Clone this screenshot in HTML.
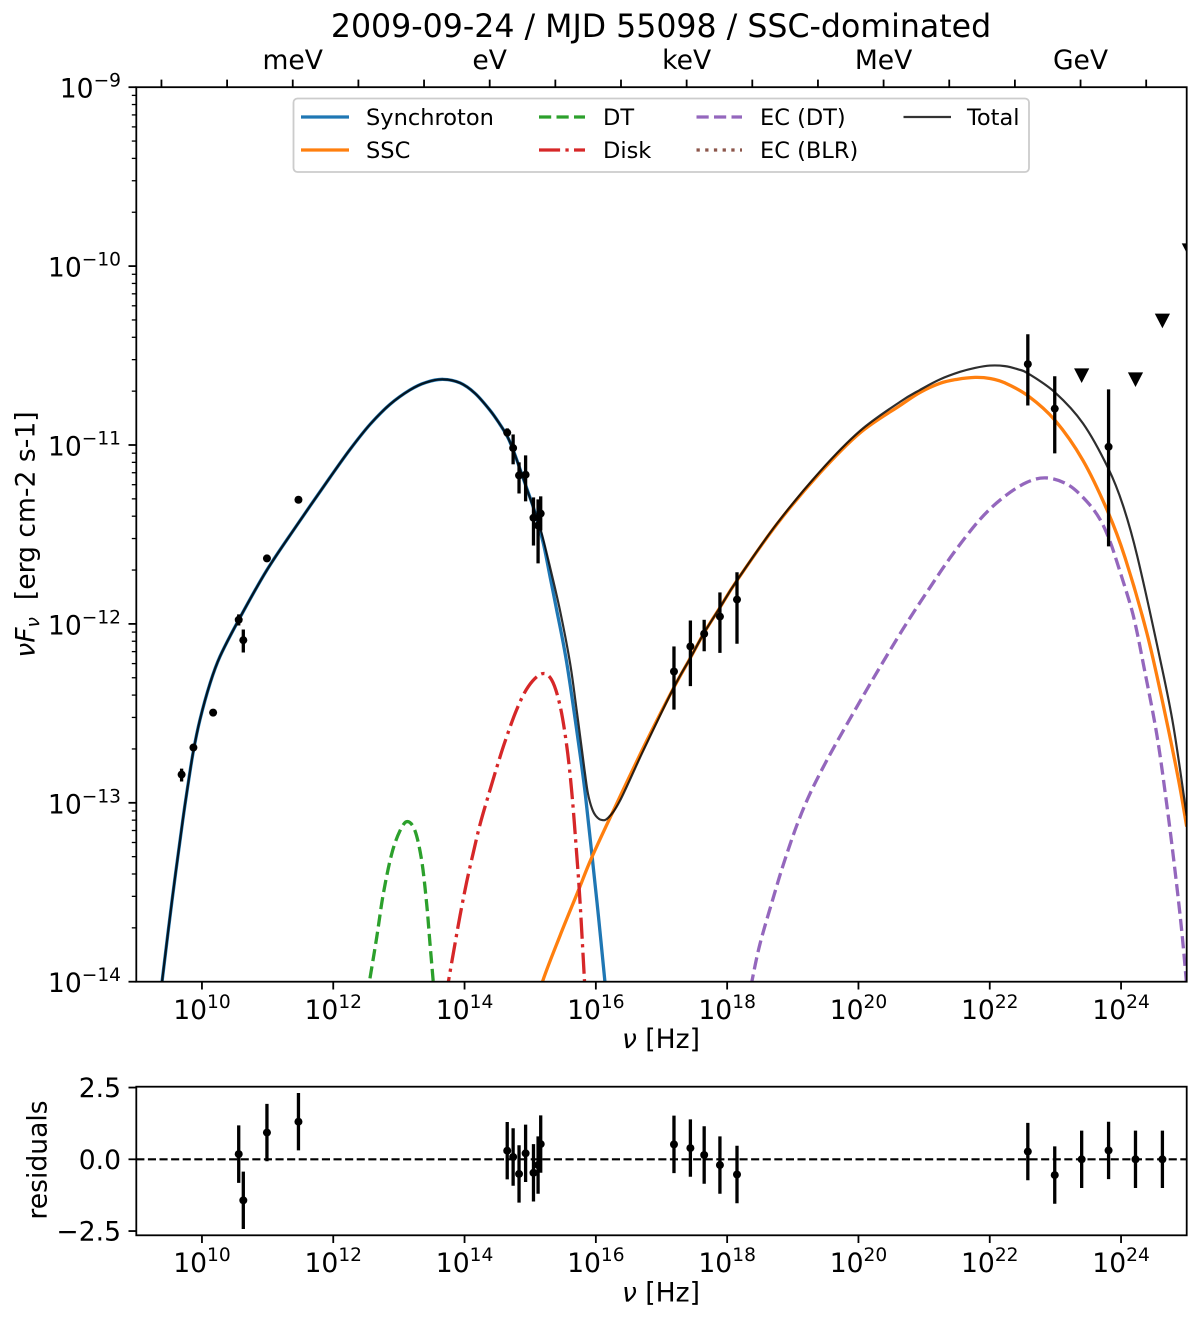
<!DOCTYPE html>
<html lang="en">
<head>
<meta charset="utf-8">
<title>2009-09-24 / MJD 55098 / SSC-dominated</title>
<style>
html,body{margin:0;padding:0;background:#fff;}
svg{display:block;}
text{font-family:"DejaVu Sans","Liberation Sans",sans-serif;fill:#000;}
</style>
</head>
<body>
<svg id="chart" xmlns="http://www.w3.org/2000/svg" width="1200" height="1322" viewBox="0 0 1200 1322">
  <defs>
    <clipPath id="main-clip"><rect x="136.3" y="87.2" width="1050.4" height="894.5"/></clipPath>
    <clipPath id="res-clip"><rect x="136.3" y="1086.7" width="1050.4" height="148.6"/></clipPath>
  </defs>
  <rect x="0" y="0" width="1200" height="1322" fill="#fff"/>
  <text x="661" y="37" font-size="31.6" text-anchor="middle">2009-09-24 / MJD 55098 / SSC-dominated</text>
  <g id="main-marks" clip-path="url(#main-clip)"></g>
  <g id="main-axes"></g>
  <g>
    <rect x="293.5" y="98.5" width="735.5" height="73.5" rx="4" fill="#fff" fill-opacity="0.8" stroke="#ccc" stroke-width="1.8"/>
    <g><line x1="301" x2="349" y1="117" y2="117" stroke="#1f77b4" stroke-width="3.3"/><text x="366" y="125" font-size="22.5">Synchroton</text></g>
    <g><line x1="301" x2="349" y1="150" y2="150" stroke="#ff7f0e" stroke-width="3.3"/><text x="366" y="158" font-size="22.5">SSC</text></g>
    <g><line x1="539" x2="585" y1="117" y2="117" stroke="#2ca02c" stroke-width="3.3" stroke-dasharray="12.2 5.3"/><text x="603" y="125" font-size="22.5">DT</text></g>
    <g><line x1="539" x2="585" y1="150" y2="150" stroke="#d62728" stroke-width="3.3" stroke-dasharray="21.1 5.3 3.3 5.3"/><text x="603" y="158" font-size="22.5">Disk</text></g>
    <g><line x1="696.5" x2="742" y1="117" y2="117" stroke="#9467bd" stroke-width="3.3" stroke-dasharray="12.2 5.3"/><text x="760" y="125" font-size="22.5">EC (DT)</text></g>
    <g><line x1="696.5" x2="742" y1="150" y2="150" stroke="#8c564b" stroke-width="3.3" stroke-dasharray="3.3 5.4"/><text x="760" y="158" font-size="22.5">EC (BLR)</text></g>
    <g><line x1="903.5" x2="951" y1="117" y2="117" stroke="#000" stroke-opacity="0.8" stroke-width="2.2"/><text x="967" y="125" font-size="22.5">Total</text></g>
  </g>
  <g id="res-marks" clip-path="url(#res-clip)"></g>
  <g id="res-axes"></g>
  <text transform="translate(34.5 534.5) rotate(-90)" font-size="26.6" text-anchor="middle" xml:space="preserve"><tspan font-style="italic">νF</tspan><tspan font-style="italic" font-size="18.6" dy="4.5">ν</tspan><tspan dy="-4.5">  [erg cm-2 s-1]</tspan></text>
  <text x="661" y="1048" font-size="26.6" text-anchor="middle"><tspan font-style="italic">ν</tspan> [Hz]</text>
  <text transform="translate(46.5 1160) rotate(-90)" font-size="26.6" text-anchor="middle">residuals</text>
  <text x="661" y="1301.5" font-size="26.6" text-anchor="middle"><tspan font-style="italic">ν</tspan> [Hz]</text>
</svg>
<script>
// Values are log10(nu / Hz) and log10(nuFnu / erg cm-2 s-1)
const synchrotronNu = [9.369,9.391,9.544,9.707,9.788,9.868,9.970,10.123,10.275,10.564,10.986,11.443,11.951,12.255,12.560,12.864,13.169,13.413,13.672,13.931,14.159,14.388,14.540,14.651,14.743,14.921,15.073,15.200,15.302,15.393,15.556,15.748,15.842,15.937,16.040,16.139,16.170];
const synchrotronFlux = [-14.078,-14.003,-13.547,-13.100,-12.898,-12.714,-12.535,-12.333,-12.182,-11.975,-11.701,-11.450,-11.181,-11.025,-10.885,-10.773,-10.692,-10.650,-10.633,-10.653,-10.711,-10.806,-10.885,-10.952,-11.030,-11.215,-11.377,-11.550,-11.735,-11.903,-12.216,-12.697,-12.960,-13.279,-13.636,-14.003,-14.120];
const sscNu = [15.119,15.184,15.454,15.733,15.937,16.318,16.784,17.180,17.434,17.652,17.886,18.150,18.755,19.414,20.024,20.633,20.938,21.242,21.501,21.775,22.004,22.232,22.583,22.994,23.420,23.801,24.060,24.391,24.644,24.872,25.0];
const sscFlux = [-14.134,-14.004,-13.743,-13.491,-13.306,-13.004,-12.647,-12.361,-12.194,-12.048,-11.911,-11.757,-11.444,-11.156,-10.932,-10.779,-10.706,-10.655,-10.633,-10.622,-10.628,-10.653,-10.725,-10.862,-11.086,-11.375,-11.629,-12.048,-12.456,-12.865,-13.133];
const dtNu = [12.514,12.549,12.662,12.762,12.890,13.017,13.128,13.245,13.347,13.423,13.474,13.524,13.542];
const dtFlux = [-14.078,-14.004,-13.752,-13.510,-13.286,-13.156,-13.105,-13.156,-13.323,-13.565,-13.789,-14.004,-14.090];
const diskNu = [13.718,13.752,13.854,13.931,14.033,14.133,14.235,14.362,14.490,14.616,14.794,14.971,15.175,15.327,15.454,15.556,15.634,15.708,15.758,15.824,15.842];
const diskFlux = [-14.090,-14.004,-13.789,-13.631,-13.441,-13.279,-13.122,-12.960,-12.803,-12.658,-12.479,-12.350,-12.279,-12.313,-12.456,-12.680,-12.943,-13.286,-13.547,-13.976,-14.106];
const ecDtNu = [18.318,18.374,18.500,18.703,18.855,19.059,19.262,19.516,19.821,20.226,20.683,21.090,21.445,21.851,22.206,22.563,22.868,23.196,23.477,23.680,23.832,23.954,24.136,24.228,24.339,24.543,24.695,24.822,24.924,25.0];
const ecDtFlux = [-14.123,-14.004,-13.789,-13.530,-13.346,-13.128,-12.949,-12.764,-12.563,-12.305,-12.026,-11.796,-11.606,-11.416,-11.293,-11.209,-11.184,-11.223,-11.315,-11.416,-11.539,-11.673,-11.886,-12.020,-12.223,-12.615,-13.006,-13.379,-13.715,-14.020];
const totalNu = [9.369,9.391,9.544,9.707,9.788,9.868,9.970,10.123,10.275,10.564,10.986,11.443,11.951,12.255,12.560,12.864,13.169,13.413,13.672,13.931,14.159,14.388,14.540,14.651,14.743,14.921,15.073,15.175,15.302,15.454,15.606,15.698,15.789,15.835,15.880,15.941,16.002,16.089,16.190,16.368,16.723,17.180,17.434,17.652,17.886,18.150,18.755,19.414,20.024,20.633,20.938,21.242,21.547,21.775,22.004,22.232,22.430,22.583,22.994,23.420,23.806,24.030,24.248,24.593,24.796,25.0];
const totalFlux = [-14.078,-14.003,-13.547,-13.100,-12.898,-12.714,-12.535,-12.333,-12.182,-11.975,-11.701,-11.450,-11.181,-11.025,-10.885,-10.773,-10.692,-10.650,-10.633,-10.653,-10.711,-10.806,-10.885,-10.952,-11.030,-11.215,-11.377,-11.494,-11.683,-11.925,-12.216,-12.456,-12.708,-12.837,-12.949,-13.032,-13.074,-13.096,-13.083,-12.988,-12.708,-12.361,-12.194,-12.048,-11.911,-11.757,-11.441,-11.148,-10.921,-10.759,-10.692,-10.633,-10.591,-10.569,-10.556,-10.559,-10.577,-10.600,-10.706,-10.879,-11.131,-11.338,-11.623,-12.194,-12.568,-13.072];

// Observed points with error bars
const obsNu = [9.69,9.87,10.17,10.56,10.63,10.99,11.47,14.65,14.74,14.83,14.93,15.05,15.12,15.16,17.19,17.44,17.65,17.89,18.15,22.58,22.99,23.81];
const obsFlux = [-12.842,-12.691,-12.496,-11.977,-12.091,-11.634,-11.306,-10.931,-11.017,-11.17,-11.166,-11.407,-11.45,-11.383,-12.266,-12.126,-12.055,-11.959,-11.864,-10.548,-10.797,-11.01];
const obsFluxUpper = [-12.809,-12.68,-12.488,-11.947,-12.031,-11.626,-11.287,-10.907,-10.941,-11.097,-11.058,-11.293,-11.304,-11.287,-12.126,-11.981,-11.977,-11.824,-11.711,-10.381,-10.616,-10.689];
const obsFluxLower = [-12.881,-12.702,-12.504,-12.009,-12.16,-11.642,-11.327,-10.952,-11.108,-11.271,-11.315,-11.562,-11.662,-11.478,-12.479,-12.348,-12.153,-12.162,-12.111,-10.779,-11.047,-11.567];

// Upper limits
const limitNu = [23.40,24.22,24.63,25.04];
const limitFlux = [-10.611,-10.633,-10.305,-9.912];

// Residuals
const residualNu = [10.56,10.63,10.99,11.47,14.65,14.74,14.83,14.93,15.05,15.12,15.16,17.19,17.44,17.65,17.89,18.15,22.58,22.99,23.40,23.81,24.22,24.63];
const residualValue = [0.18,-1.43,0.93,1.31,0.3,0.08,-0.51,0.21,-0.47,-0.2,0.53,0.52,0.39,0.15,-0.2,-0.53,0.27,-0.55,0,0.31,0,0];
const residualError = [1,1,1,1,1,1,1,1,1,1,1,1,1,1,1,1,1,1,1,1,1,1];

// Axis ticks
const xTickExponents = [10,12,14,16,18,20,22,24];
const yTickExponents = [-9,-10,-11,-12,-13,-14];
const yMinorFactors = [2,3,4,5,6,7,8,9];
const residualTicks = [2.5,0,-2.5];
const residualTickLabels = ['2.5','0.0','−2.5'];
const energyTickExponents = [-5,-4,-3,-2,-1,0,1,2,3,4,5,6,7,8,9,10];
const energyLabels = ['meV','eV','keV','MeV','GeV'];
const energyLabelExponents = [-3,0,3,6,9];
const HZ_PER_EV_LOG = 14.383;

const SVGNS = 'http://www.w3.org/2000/svg';
const xMain = v => 136.3 + (v - 9) * 65.65;
const yMain = v => 87.2 + (-9 - v) * 178.9;
const yRes = v => 1159.3 - v * 28.7;

const mainMarks = document.getElementById('main-marks');
const mainAxes = document.getElementById('main-axes');
const resMarks = document.getElementById('res-marks');
const resAxes = document.getElementById('res-axes');

function mk(tag, attrs, parent) {
  const el = document.createElementNS(SVGNS, tag);
  for (const k in attrs) el.setAttribute(k, attrs[k]);
  parent.appendChild(el);
  return el;
}
function smoothPath(xs, ys) {
  const pts = xs.map((v, i) => [xMain(v), yMain(ys[i])]);
  let d = 'M' + pts[0][0].toFixed(2) + ' ' + pts[0][1].toFixed(2);
  for (let i = 0; i < pts.length - 1; i++) {
    const p0 = pts[Math.max(i - 1, 0)], p1 = pts[i], p2 = pts[i + 1], p3 = pts[Math.min(i + 2, pts.length - 1)];
    const c1x = p1[0] + (p2[0] - p0[0]) / 6, c1y = p1[1] + (p2[1] - p0[1]) / 6;
    const c2x = p2[0] - (p3[0] - p1[0]) / 6, c2y = p2[1] - (p3[1] - p1[1]) / 6;
    d += 'C' + c1x.toFixed(2) + ' ' + c1y.toFixed(2) + ' ' + c2x.toFixed(2) + ' ' + c2y.toFixed(2) + ' ' + p2[0].toFixed(2) + ' ' + p2[1].toFixed(2);
  }
  return d;
}
function curve(xs, ys, color, width, dash, opacity) {
  const attrs = {d: smoothPath(xs, ys), fill: 'none', stroke: color, 'stroke-width': width};
  if (dash) attrs['stroke-dasharray'] = dash;
  if (opacity) attrs['stroke-opacity'] = opacity;
  return mk('path', attrs, mainMarks);
}
let el;
el = curve(synchrotronNu, synchrotronFlux, '#1f77b4', 3.3);


el = curve(sscNu, sscFlux, '#ff7f0e', 3.3);


el = curve(dtNu, dtFlux, '#2ca02c', 3.3, '12.2 5.3');


el = curve(diskNu, diskFlux, '#d62728', 3.3, '21.1 5.3 3.3 5.3');


el = curve(ecDtNu, ecDtFlux, '#9467bd', 3.3, '12.2 5.3');


el = curve(totalNu, totalFlux, '#000', 2.2, null, 0.82);



obsNu.forEach((v, i) => {
  const g = mk('g', {}, mainMarks);
  
  
  mk('line', {x1: xMain(v), x2: xMain(v), y1: yMain(obsFluxUpper[i]), y2: yMain(obsFluxLower[i]), stroke: '#000', 'stroke-width': 3.3}, g);
  mk('circle', {cx: xMain(v), cy: yMain(obsFlux[i]), r: 4, fill: '#000'}, g);
});
limitNu.forEach((v, i) => {
  const x = xMain(v), y = yMain(limitFlux[i]);
  const t = mk('polygon', {points: (x - 7.6) + ',' + (y - 7) + ' ' + (x + 7.6) + ',' + (y - 7) + ' ' + x + ',' + (y + 7.6), fill: '#000'}, mainMarks);
  
  
});

// Main axes
function frame(parent, x, y, w, h) {
  const r = mk('rect', {x: x, y: y, width: w, height: h, fill: 'none', stroke: '#000', 'stroke-width': 1.8}, parent);
  
  
}
function powerLabel(parent, x, y, exp, anchor) {
  const t = mk('text', {x: x, y: y, 'font-size': 26.6, 'text-anchor': anchor}, parent);
  
  
  t.appendChild(document.createTextNode('10'));
  const s = mk('tspan', {'font-size': 18.6, dy: -11}, t);
  s.textContent = String(exp).replace('-', '−');
}
frame(mainAxes, 136.3, 87.2, 1050.4, 894.5);
xTickExponents.forEach(e => {
  const x = xMain(e);
  const l = mk('line', {x1: x, x2: x, y1: 981.7, y2: 989.5, stroke: '#000', 'stroke-width': 1.8}, mainAxes);
  
  
  powerLabel(mainAxes, x, 1019, e, 'middle');
});
yTickExponents.forEach(e => {
  const y = yMain(e);
  const l = mk('line', {x1: 128.5, x2: 136.3, y1: y, y2: y, stroke: '#000', 'stroke-width': 1.8}, mainAxes);
  
  
  powerLabel(mainAxes, 121, y + 10.5, e, 'end');
  if (e > -14) {
    yMinorFactors.forEach(f => {
      const ym = yMain(e - 1 + Math.log10(f));
      const m = mk('line', {x1: 131.8, x2: 136.3, y1: ym, y2: ym, stroke: '#000', 'stroke-width': 1.3}, mainAxes);
      
      
    });
  }
});
energyTickExponents.forEach(e => {
  const x = xMain(HZ_PER_EV_LOG + e);
  const l = mk('line', {x1: x, x2: x, y1: 79.6, y2: 87.2, stroke: '#000', 'stroke-width': 1.8}, mainAxes);
  
  
});
energyLabels.forEach((name, i) => {
  const t = mk('text', {x: xMain(HZ_PER_EV_LOG + energyLabelExponents[i]), y: 69, 'font-size': 26.6, 'text-anchor': 'middle'}, mainAxes);
  
  
  t.textContent = name;
});

// Residual panel
el = mk('line', {x1: 136.3, x2: 1186.7, y1: yRes(0), y2: yRes(0), stroke: '#000', 'stroke-width': 2.2, 'stroke-dasharray': '8.1 3.5'}, resMarks);


residualNu.forEach((v, i) => {
  const g = mk('g', {}, resMarks);
  
  
  mk('line', {x1: xMain(v), x2: xMain(v), y1: yRes(residualValue[i] + residualError[i]), y2: yRes(residualValue[i] - residualError[i]), stroke: '#000', 'stroke-width': 3.3}, g);
  mk('circle', {cx: xMain(v), cy: yRes(residualValue[i]), r: 4, fill: '#000'}, g);
});
frame(resAxes, 136.3, 1086.7, 1050.4, 148.6);
xTickExponents.forEach(e => {
  const x = xMain(e);
  const l = mk('line', {x1: x, x2: x, y1: 1235.3, y2: 1243, stroke: '#000', 'stroke-width': 1.8}, resAxes);
  
  
  powerLabel(resAxes, x, 1272, e, 'middle');
});
residualTicks.forEach((v, i) => {
  const y = yRes(v);
  const l = mk('line', {x1: 128.5, x2: 136.3, y1: y, y2: y, stroke: '#000', 'stroke-width': 1.8}, resAxes);
  
  
  const t = mk('text', {x: 121, y: y + 9.5, 'font-size': 26.6, 'text-anchor': 'end'}, resAxes);
  
  
  t.textContent = residualTickLabels[i];
});
</script>
</body>
</html>
